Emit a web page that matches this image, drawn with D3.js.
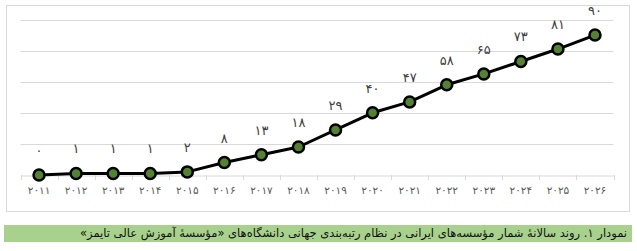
<!DOCTYPE html>
<html>
<head>
<meta charset="utf-8">
<script src="https://cdn.jsdelivr.net/npm/d3@7"></script>
<style>
  html, body { margin: 0; padding: 0; background: #fff; overflow: hidden; }
  #wrap { position: relative; width: 637px; height: 251px; }
  svg { display: block; }
  #caption {
    position: absolute; left: 4px; top: 225px; width: 623px; height: 17px;
    padding-right: 5px;
    background: #a9d18e; color: #111;
    font-family: "DejaVu Sans", sans-serif; font-size: 11.5px; line-height: 17px;
    white-space: nowrap; overflow: hidden; text-align: right;
  }
</style>
</head>
<body>
<div id="wrap">
<svg id="chart" width="637" height="251"></svg>
<div id="caption" dir="rtl"><span></span></div>
</div>
<script>
const years = ['۲۰۱۱','۲۰۱۲','۲۰۱۳','۲۰۱۴','۲۰۱۵','۲۰۱۶','۲۰۱۷','۲۰۱۸',
               '۲۰۱۹','۲۰۲۰','۲۰۲۱','۲۰۲۲','۲۰۲۳','۲۰۲۴','۲۰۲۵','۲۰۲۶'];
const counts = [0, 1, 1, 1, 2, 8, 13, 18, 29, 40, 47, 58, 65, 73, 81, 90];
const yTicks = [0, 20, 40, 60, 80, 100];
const caption = 'نمودار ۱. روند سالانهٔ شمار مؤسسه‌های ایرانی در نظام رتبه‌بندی جهانی دانشگاه‌های «مؤسسهٔ آموزش عالی تایمز»';

const faDigits = n => String(n).replace(/\d/g, c => '۰۱۲۳۴۵۶۷۸۹'[c]);

const svg = d3.select('#chart');
const font = '"DejaVu Sans", sans-serif';

// outer chart frame
svg.append('rect')
    .attr('x', 6.5).attr('y', 5.5)
    .attr('width', 623).attr('height', 206)
    .attr('fill', '#fff').attr('stroke', '#d9d9d9');

const x = d3.scaleBand().domain(years).range([20.5, 613.5]).padding(0);
const y = d3.scaleLinear().domain([0, 100]).range([175, 19.5]);

// gridlines
svg.append('g')
    .selectAll('line')
    .data(yTicks.slice(1))
    .join('line')
    .attr('x1', 20.5).attr('x2', 613.5)
    .attr('y1', d => Math.round(y(d)) + 0.5)
    .attr('y2', d => Math.round(y(d)) + 0.5)
    .attr('stroke', '#d9d9d9');

// category axis
const axis = svg.append('g')
    .attr('transform', `translate(0,${Math.round(y(0)) + 0.5})`)
    .call(d3.axisBottom(x).tickSize(0).tickPadding(11));
axis.select('.domain').attr('stroke', '#d9d9d9');
axis.selectAll('text')
    .attr('fill', '#595959')
    .style('font-family', font)
    .style('font-size', '10.5px');

// tick marks between categories
svg.append('g')
    .selectAll('line')
    .data(d3.range(years.length + 1))
    .join('line')
    .attr('x1', i => Math.round(x.range()[0] + i * x.step()) + 0.5)
    .attr('x2', i => Math.round(x.range()[0] + i * x.step()) + 0.5)
    .attr('y1', y(0)).attr('y2', y(0) + 5)
    .attr('stroke', '#d9d9d9');

const cx = d => x(d.year) + x.bandwidth() / 2;
const data = years.map((year, i) => ({year, value: counts[i]}));

svg.append('path')
    .datum(data)
    .attr('fill', 'none')
    .attr('stroke', '#000')
    .attr('stroke-width', 3)
    .attr('stroke-linejoin', 'round')
    .attr('d', d3.line().x(cx).y(d => y(d.value)));

svg.append('g')
    .selectAll('circle')
    .data(data)
    .join('circle')
    .attr('cx', cx)
    .attr('cy', d => y(d.value))
    .attr('r', 5.5)
    .attr('fill', '#548235')
    .attr('stroke', '#000')
    .attr('stroke-width', 2.5);

svg.append('g')
    .selectAll('text')
    .data(data)
    .join('text')
    .attr('x', cx)
    .attr('y', d => y(d.value) - 20)
    .attr('text-anchor', 'middle')
    .attr('fill', '#404040')
    .style('font-family', font)
    .style('font-size', '13px')
    .text(d => faDigits(d.value));

// caption: fit the text to the width it takes in the original (about 559px)
const cap = d3.select('#caption');
const span = cap.select('span').text(caption);
let size = 11.5;
while (span.node().getBoundingClientRect().width > 559 && size > 8) {
    size -= 0.25;
    cap.style('font-size', size + 'px');
}
</script>
</body>
</html>
